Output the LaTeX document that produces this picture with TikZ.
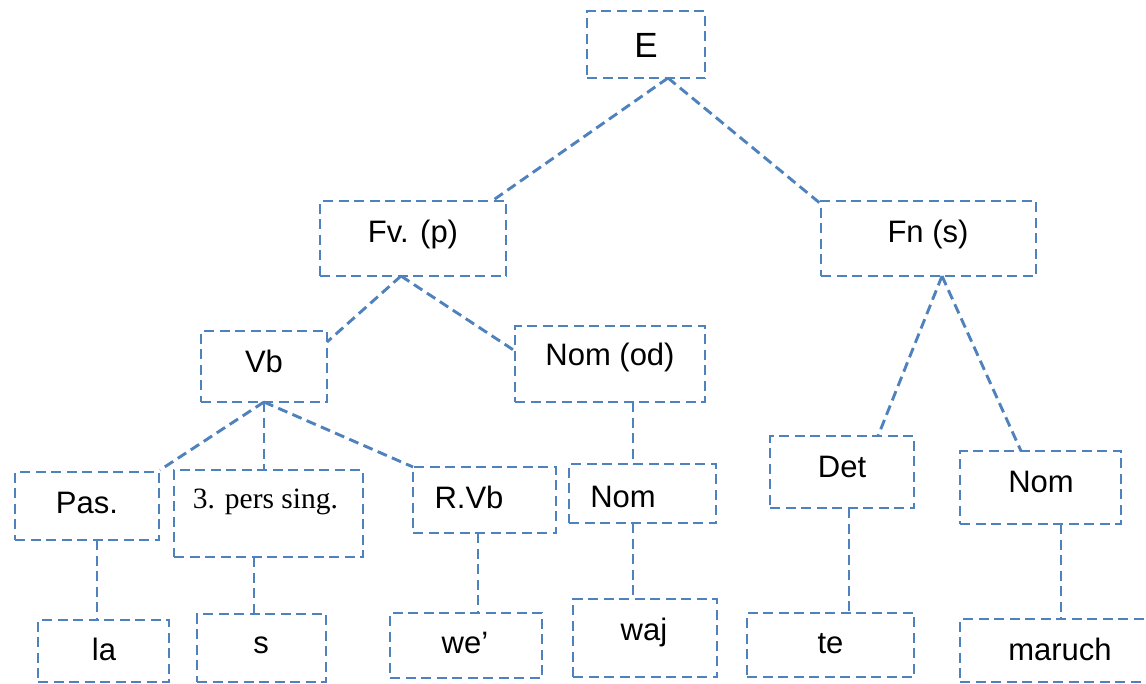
\documentclass[tikz,border=0pt]{standalone}
\usepackage{fontspec}
\setmainfont{Liberation Sans}
\newfontfamily\timesfont{Liberation Serif}
\usetikzlibrary{calc}
\definecolor{linkblue}{RGB}{79,129,189}
\begin{document}
\begin{tikzpicture}[x=1pt,y=-1pt,
  box/.style={draw=linkblue, line width=2.9pt, dash pattern=on 10pt off 5.5pt,
              rectangle, inner sep=0pt, outer sep=0pt},
  link/.style={draw=linkblue, line width=2.9pt, dash pattern=on 10pt off 5.5pt},
  word/.style={anchor=base, inner sep=0pt, font=\fontsize{31}{36}\selectfont},
  serifword/.style={anchor=base, inner sep=0pt, font=\timesfont\fontsize{29.5}{36}\selectfont}]
\clip (0,0) rectangle (1146,683);
\useasboundingbox (0,0) rectangle (1146,683);

% boxes
\node[box, minimum width=118, minimum height=67] (e)      at (646,44.5)   {};
\node[box, minimum width=186, minimum height=75] (fv)     at (413,238.5)  {};
\node[box, minimum width=215, minimum height=75] (fn)     at (928.5,238.5){};
\node[box, minimum width=126, minimum height=71] (vb)     at (264,366.5)  {};
\node[box, minimum width=190, minimum height=76] (nomod)  at (610,364)    {};
\node[box, minimum width=144, minimum height=68] (pas)    at (87,506)     {};
\node[box, minimum width=189, minimum height=87] (pers)   at (268.5,513.5){};
\node[box, minimum width=143, minimum height=66] (rvb)    at (484.5,500)  {};
\node[box, minimum width=147, minimum height=59] (nom)    at (642.5,493.5){};
\node[box, minimum width=144, minimum height=72] (det)    at (842,472)    {};
\node[box, minimum width=161, minimum height=73] (nomr)   at (1040.5,487.5){};
\node[box, minimum width=131, minimum height=62] (la)     at (103.5,651)  {};
\node[box, minimum width=129, minimum height=68] (s)      at (261.5,648)  {};
\node[box, minimum width=152, minimum height=65] (we)     at (466,645.5)  {};
\node[box, minimum width=144, minimum height=78] (waj)    at (645,638)    {};
\node[box, minimum width=167, minimum height=64] (te)     at (830.5,645)  {};
\node[box, minimum width=192, minimum height=63] (maruch) at (1056,650.5) {};

% labels
\node[word, font=\fontsize{35}{40}\selectfont] (te-e) at (646,57) {E};
\node[word] (t-fv)    at (413,242)  {Fv. (p)};
\node[word] (t-fn)    at (928,242)  {Fn (s)};
\node[word] (t-vb)    at (264,372)  {Vb};
\node[word] (t-nomod) at (610,365)  {Nom (od)};
\node[word] (t-pas)   at (87,513)   {Pas.};
\node[serifword] (t-pers) at (265.5,508) {3. pers sing.};
\node[word] (t-rvb)   at (469,508)  {R.Vb};
\node[word] (t-nom)   at (623,507)  {Nom};
\node[word] (t-det)   at (842,477)  {Det};
\node[word] (t-nomr)  at (1041,492) {Nom};
\node[word] (t-la)    at (104,660)  {la};
\node[word] (t-s)     at (261,653)  {s};
\node[word] (t-we)    at (465,653)  {we’};
\node[word] (t-waj)   at (644,640)  {waj};
\node[word] (t-te)    at (830.5,653){te};
\node[word] (t-mar)   at (1060,660) {maruch};

% junction points on the boxes
\coordinate (ej)  at ($(e.south)+(22,0)$);
\coordinate (fvj) at ($(fv.south)+(-12,0)$);
\coordinate (fnj) at ($(fn.south)+(13.5,0)$);
\coordinate (nodj) at ($(nomod.south)+(23,0)$);
\coordinate (pasj) at ($(pas.south)+(10,0)$);
\coordinate (persj) at ($(pers.south)+(-14.5,0)$);
\coordinate (rvbj) at ($(rvb.south)+(-6.5,0)$);
\coordinate (nomj) at ($(nom.south)+(-9.5,0)$);
\coordinate (detj) at ($(det.south)+(7,0)$);
\coordinate (nomrj) at ($(nomr.south)+(20.5,0)$);

% connectors
\draw[link] (ej) -- ($(fv.north)+(79,0)$);
\draw[link] (ej) -- ($(fn.north west)+(0,3)$);
\draw[link] (fvj) -- ($(vb.north east)+(0,11)$);
\draw[link] (fvj) -- ($(nomod.west)+(0,-13)$);
\draw[link] (vb.south) -- ($(pas.north east)+(1,-2)$);
\draw[link] (vb.south) -- (vb.south |- pers.north);
\draw[link] (vb.south) -- (rvb.north west);
\draw[link] (nodj) -- (nodj |- nom.north);
\draw[link] (fnj) -- ($(det.north)+(36,0)$);
\draw[link] (fnj) -- ($(nomr.north)+(-19.5,0)$);
\draw[link] (pasj) -- (pasj |- la.north);
\draw[link] (persj) -- (persj |- s.north);
\draw[link] (rvbj) -- (rvbj |- we.north);
\draw[link] (nomj) -- (nomj |- waj.north);
\draw[link] (detj) -- (detj |- te.north);
\draw[link] (nomrj) -- (nomrj |- maruch.north);
\end{tikzpicture}
\end{document}
